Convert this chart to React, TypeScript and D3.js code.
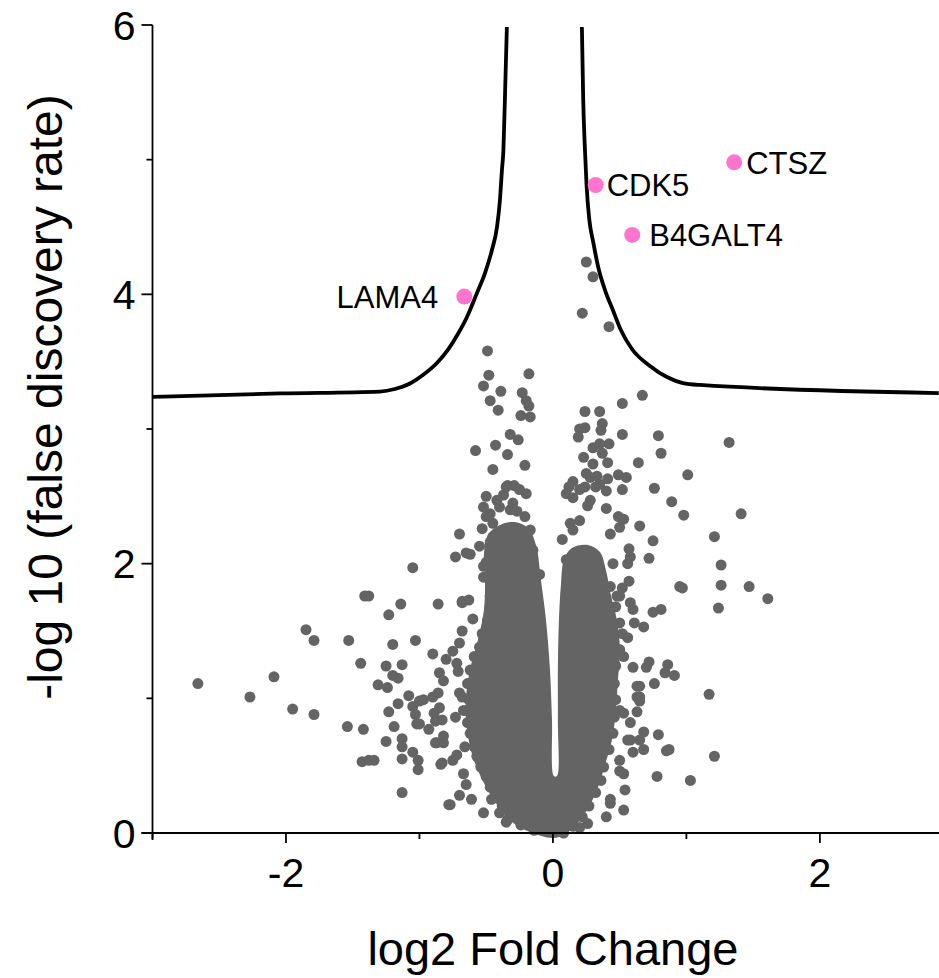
import React from 'react';
import * as d3 from 'd3';

const W = 939;
const H = 978;

const xMajorTicks = [-2, 0, 2];
const xMinorTicks = [-3, -1, 1];
const yMajorTicks = [0, 2, 4, 6];
const yMinorTicks = [1, 3, 5];

const xTitle = 'log2 Fold Change';
const yTitle = '-log 10 (false discovery rate)';

const geneNames = ['LAMA4', 'CDK5', 'B4GALT4', 'CTSZ'];
const geneLog2FC = [-0.664, 0.32, 0.594, 1.358];
const geneNegLogFDR = [3.983, 4.812, 4.441, 4.98];

const thresholdLeft: [number, number][] = [
  [-3.004, 3.238], [-2.045, 3.264], [-1.296, 3.278], [-1.184, 3.297], [-1.071, 3.338],
  [-0.974, 3.401], [-0.869, 3.49], [-0.787, 3.587], [-0.712, 3.705], [-0.644, 3.832],
  [-0.569, 4.01], [-0.509, 4.158], [-0.457, 4.329], [-0.419, 4.5], [-0.397, 4.7],
  [-0.382, 4.923], [-0.371, 5.072], [-0.36, 5.443], [-0.345, 5.985],
];

const thresholdRight: [number, number][] = [
  [0.217, 5.985], [0.227, 5.443], [0.24, 5.072], [0.252, 4.812], [0.272, 4.559],
  [0.302, 4.388], [0.339, 4.203], [0.39, 4.032], [0.449, 3.884], [0.509, 3.735],
  [0.592, 3.594], [0.727, 3.468], [0.854, 3.386], [0.974, 3.341], [1.101, 3.327],
  [2.891, 3.267],
];

// outline of the densely overlapping cloud of proteins near zero
const denseCore: [number, number][] = [
  [0.0, -0.037], [-0.172, 0.007], [-0.307, 0.082], [-0.412, 0.2], [-0.509, 0.356],
  [-0.592, 0.542], [-0.644, 0.765], [-0.652, 0.988], [-0.622, 1.21], [-0.562, 1.433],
  [-0.517, 1.656], [-0.509, 1.879], [-0.517, 2.064], [-0.487, 2.213], [-0.397, 2.287],
  [-0.285, 2.309], [-0.187, 2.265], [-0.127, 2.139], [-0.09, 1.879], [-0.052, 1.582],
  [-0.022, 1.21], [-0.007, 0.839], [0.007, 0.423], [0.03, 0.423], [0.037, 0.839],
  [0.037, 1.21], [0.045, 1.582], [0.06, 1.842], [0.082, 2.027], [0.142, 2.116],
  [0.262, 2.139], [0.352, 2.087], [0.397, 1.953], [0.434, 1.767], [0.479, 1.582],
  [0.502, 1.359], [0.487, 1.136], [0.472, 0.913], [0.442, 0.691], [0.39, 0.505],
  [0.33, 0.319], [0.255, 0.171], [0.172, 0.059], [0.09, -0.007],
];

const proteins: [number, number][] = [
  // far left
  [-2.66, 1.11], [-2.27, 1.01], [-2.09, 1.16], [-1.95, 0.92], [-1.79, 0.88], [-1.85, 1.51],
  [-1.79, 1.43], [-1.53, 1.43], [-1.44, 1.26], [-1.41, 1.76], [-1.38, 1.76], [-1.05, 1.97],
  [-1.14, 1.7], [-1.23, 1.62], [-0.86, 1.7], [-1.2, 1.4], [-1.03, 1.43], [-0.9, 1.33],
  [-0.8, 1.29], [-1.25, 1.24], [-1.13, 1.25], [-1.2, 1.17], [-1.16, 1.15], [-1.31, 1.1],
  [-1.24, 1.08], [-0.85, 1.19], [-0.82, 1.13], [-1.08, 1.02], [-1.0, 0.98], [-1.16, 0.96],
  [-1.23, 0.9], [-1.05, 0.94], [-1.03, 0.88], [-0.9, 1.01], [-0.86, 1.04], [-0.85, 0.93],
  [-0.89, 0.89], [-1.02, 0.81], [-0.93, 0.77], [-0.88, 0.83], [-1.19, 0.79], [-1.54, 0.79],
  [-1.42, 0.77], [-1.25, 0.68], [-1.13, 0.7], [-1.13, 0.64], [-1.05, 0.6], [-1.01, 0.54],
  [-1.01, 0.47], [-1.13, 0.55], [-1.43, 0.53], [-1.38, 0.54], [-1.34, 0.54], [-0.84, 0.51],
  [-0.88, 0.67], [-0.82, 0.67], [-1.13, 0.3], [-0.78, 0.21],
  // left fringe of the cloud
  [-0.68, 1.71], [-0.6, 1.59], [-0.68, 1.5], [-0.7, 1.41], [-0.75, 1.35], [-0.72, 1.26],
  [-0.71, 1.2], [-0.97, 0.99], [-1.0, 0.81], [-0.83, 0.84], [-0.82, 0.72], [-0.87, 0.67],
  [-0.73, 0.86], [-0.7, 1.04], [-0.63, 0.99], [-0.65, 0.91], [-0.66, 0.64], [-0.75, 0.54],
  [-0.72, 0.58], [-0.83, 0.52], [-0.67, 0.44], [-0.65, 0.36], [-0.7, 0.28], [-0.61, 0.25],
  [-0.77, 0.21], [-0.52, 0.15], [-0.46, 0.25], [-0.4, 0.15], [-0.34, 0.1], [-0.35, 0.08],
  [-0.47, 1.68], [-0.49, 1.58], [-0.53, 1.48], [-0.55, 1.38], [-0.59, 1.31], [-0.62, 1.21],
  [-0.64, 1.11], [-0.68, 1.01], [-0.67, 0.91], [-0.64, 0.82], [-0.62, 0.74], [-0.59, 0.64],
  [-0.57, 0.57], [-0.54, 0.49], [-0.5, 0.42], [-0.47, 0.34], [-0.43, 0.27], [-0.38, 0.2],
  [-0.32, 0.12], [-0.24, 0.06], [-0.14, 0.02],
  // upper left
  [-0.49, 3.58], [-0.18, 3.41], [-0.48, 3.4], [-0.52, 3.32], [-0.39, 3.28], [-0.23, 3.27],
  [-0.47, 3.21], [-0.2, 3.21], [-0.18, 3.17], [-0.41, 3.14], [-0.24, 3.1], [-0.17, 3.09],
  [-0.32, 2.96], [-0.26, 2.92], [-0.58, 2.84], [-0.43, 2.88], [-0.34, 2.81], [-0.21, 2.73],
  [-0.45, 2.7], [-0.34, 2.58], [-0.29, 2.58], [-0.2, 2.52], [-0.5, 2.5], [-0.37, 2.51],
  [-0.35, 2.57], [-0.25, 2.55], [-0.42, 2.47], [-0.52, 2.42], [-0.47, 2.37], [-0.4, 2.42],
  [-0.32, 2.4], [-0.27, 2.39], [-0.21, 2.35], [-0.3, 2.45], [-0.53, 2.26], [-0.17, 2.25],
  [-0.45, 2.2], [-0.5, 2.35], [-0.47, 2.16], [-0.45, 2.3], [-0.52, 1.98], [-0.55, 2.13],
  [-0.5, 1.9], [-0.47, 1.76], [-0.5, 2.01], [-0.52, 1.9], [-0.45, 1.83], [-0.7, 2.22],
  [-0.73, 2.05], [-0.65, 2.08], [-0.62, 2.07], [-0.68, 1.72], [-0.63, 1.73], [-0.15, 2.1],
  [-0.1, 1.92], [-0.13, 1.77],
  // upper right
  [0.25, 4.24], [0.3, 4.13], [0.22, 3.86], [0.42, 3.76], [0.67, 3.25], [0.52, 3.19],
  [0.24, 3.13], [0.35, 3.13], [0.37, 3.04], [0.36, 2.99], [0.2, 3.0], [0.24, 3.01],
  [0.19, 2.94], [0.52, 2.96], [0.79, 2.95], [0.81, 2.82], [0.42, 2.89], [0.35, 2.89],
  [0.3, 2.86], [0.37, 2.82], [0.23, 2.79], [0.3, 2.74], [0.41, 2.75], [0.64, 2.75],
  [1.01, 2.66], [0.25, 2.67], [0.28, 2.64], [0.33, 2.65], [0.41, 2.63], [0.35, 2.59],
  [0.49, 2.66], [0.55, 2.64], [0.15, 2.61], [0.12, 2.57], [0.1, 2.52], [0.15, 2.49],
  [0.2, 2.55], [0.24, 2.57], [0.32, 2.57], [0.4, 2.54], [0.52, 2.55], [0.76, 2.56],
  [0.28, 2.47], [0.26, 2.43], [0.4, 2.41], [0.89, 2.46], [0.98, 2.36], [0.2, 2.32],
  [0.13, 2.3], [0.15, 2.25], [0.49, 2.35], [0.53, 2.33], [0.5, 2.27], [0.65, 2.28],
  [0.43, 2.22], [0.75, 2.17], [0.07, 2.18], [0.57, 2.11], [0.58, 2.05], [0.56, 2.0],
  [0.72, 2.04], [0.95, 1.83], [0.97, 1.82], [0.75, 1.64], [0.81, 1.66], [0.57, 1.87],
  [0.52, 1.82], [0.5, 1.76], [0.45, 2.0], [0.43, 1.83], [0.48, 1.76], [0.1, 2.03],
  [0.1, 1.78],
  // far right
  [1.32, 2.9], [1.41, 2.37], [1.21, 2.2], [1.26, 1.99], [1.26, 1.84], [1.47, 1.83],
  [1.61, 1.74], [1.24, 1.67],
  // right fringe of the cloud
  [0.68, 1.53], [0.61, 1.56], [0.58, 1.71], [0.6, 1.66], [0.72, 1.27], [0.7, 1.23],
  [0.86, 1.25], [0.84, 1.19], [0.91, 1.17], [0.6, 1.23], [0.76, 1.11], [0.63, 1.09],
  [1.17, 1.03], [0.63, 0.9], [0.79, 0.73], [0.68, 0.75], [0.65, 0.69], [0.58, 0.69],
  [0.85, 0.61], [0.87, 0.62], [1.21, 0.57], [0.68, 0.62], [0.6, 0.6], [0.78, 0.42],
  [1.03, 0.39], [0.65, 1.09], [0.65, 1.01], [0.65, 0.98], [0.5, 1.56], [0.56, 1.45],
  [0.5, 1.36], [0.53, 1.31], [0.63, 1.01], [0.5, 0.91], [0.53, 0.89], [0.58, 0.82],
  [0.56, 0.69], [0.5, 0.54], [0.5, 0.46], [0.53, 0.44], [0.54, 0.32], [0.53, 0.17],
  [0.43, 0.25], [0.43, 0.22], [0.4, 0.12], [0.26, 0.07], [0.2, 0.04],
  [0.47, 1.68], [0.52, 1.48], [0.5, 1.36], [0.47, 1.24], [0.46, 1.11], [0.47, 0.99],
  [0.46, 0.86], [0.45, 0.74], [0.42, 0.62], [0.38, 0.49], [0.36, 0.39], [0.32, 0.3],
  [0.27, 0.2], [0.22, 0.12], [0.15, 0.05], [0.08, 0.0],
];

const GREY = '#646464';
const PINK = '#FF74CF';
const FONT = "'Liberation Sans', Arial, Helvetica, sans-serif";

// label placement (styling, not data)
const labelAnchor: Record<string, 'start' | 'end'> = {
  LAMA4: 'end', CDK5: 'start', B4GALT4: 'start', CTSZ: 'start',
};
const labelDx: Record<string, number> = { LAMA4: -26, CDK5: 11, B4GALT4: 17, CTSZ: 12 };

export default function App() {
  const x = d3.scaleLinear().domain([-3, 2.9]).range([152.5, 940]);
  const y = d3.scaleLinear().domain([0, 6]).range([833, 25]);

  const curve = d3
    .line<[number, number]>()
    .x((d) => x(d[0]))
    .y((d) => y(d[1]))
    .curve(d3.curveMonotoneX);

  const core = d3
    .line<[number, number]>()
    .x((d) => x(d[0]))
    .y((d) => y(d[1]))
    .curve(d3.curveCatmullRomClosed.alpha(0.5));

  const x0 = x(-3);
  const y0 = y(0);

  return (
    <div style={{ position: 'absolute', left: 0, top: 0 }}>
      <svg width={W} height={H} style={{ display: 'block', background: '#fff' }}>
        {/* dense cloud */}
        <path d={core(denseCore) || ''} fill={GREY} />
        {/* individual proteins */}
        <g fill={GREY}>
          {proteins.map((p, i) => (
            <circle key={i} cx={x(p[0])} cy={y(p[1])} r={5.5} />
          ))}
        </g>
        {/* significance thresholds */}
        <path d={curve(thresholdLeft) || ''} fill="none" stroke="#000" strokeWidth={3.8} />
        <path d={curve(thresholdRight) || ''} fill="none" stroke="#000" strokeWidth={3.8} />

        {/* axes */}
        <g stroke="#000" strokeWidth={1.8}>
          <line x1={x0} x2={x0} y1={y(6)} y2={y0 + 7} />
          <line x1={x0 - 11} x2={940} y1={y0} y2={y0} />
          {yMajorTicks.map((t) => (
            <line key={'ym' + t} x1={x0 - 11} x2={x0} y1={y(t)} y2={y(t)} />
          ))}
          {yMinorTicks.map((t) => (
            <line key={'yn' + t} x1={x0 - 6} x2={x0} y1={y(t)} y2={y(t)} />
          ))}
          {xMajorTicks.map((t) => (
            <line key={'xm' + t} x1={x(t)} x2={x(t)} y1={y0} y2={y0 + 10} />
          ))}
          {xMinorTicks.map((t) => (
            <line key={'xn' + t} x1={x(t)} x2={x(t)} y1={y0} y2={y0 + 6} />
          ))}
        </g>
        <g fontFamily={FONT} fontSize={41} fill="#000">
          {yMajorTicks.map((t) => (
            <text key={'yl' + t} x={x0 - 17} y={y(t)} dy="0.36em" textAnchor="end">
              {t}
            </text>
          ))}
          {xMajorTicks.map((t) => (
            <text key={'xl' + t} x={x(t)} y={887} textAnchor="middle">
              {t}
            </text>
          ))}
        </g>
        <text x={x(0)} y={965} textAnchor="middle" fontFamily={FONT} fontSize={47}>
          {xTitle}
        </text>
        <text
          transform={`translate(62, 397) rotate(-90)`}
          textAnchor="middle"
          fontFamily={FONT}
          fontSize={48}
        >
          {yTitle}
        </text>

        {/* highlighted genes */}
        {geneNames.map((g, i) => (
          <g key={g}>
            <circle cx={x(geneLog2FC[i])} cy={y(geneNegLogFDR[i])} r={8} fill={PINK} />
            <text
              x={x(geneLog2FC[i]) + labelDx[g]}
              y={y(geneNegLogFDR[i])}
              dy="0.36em"
              textAnchor={labelAnchor[g]}
              fontFamily={FONT}
              fontSize={31}
            >
              {g}
            </text>
          </g>
        ))}
      </svg>
    </div>
  );
}
